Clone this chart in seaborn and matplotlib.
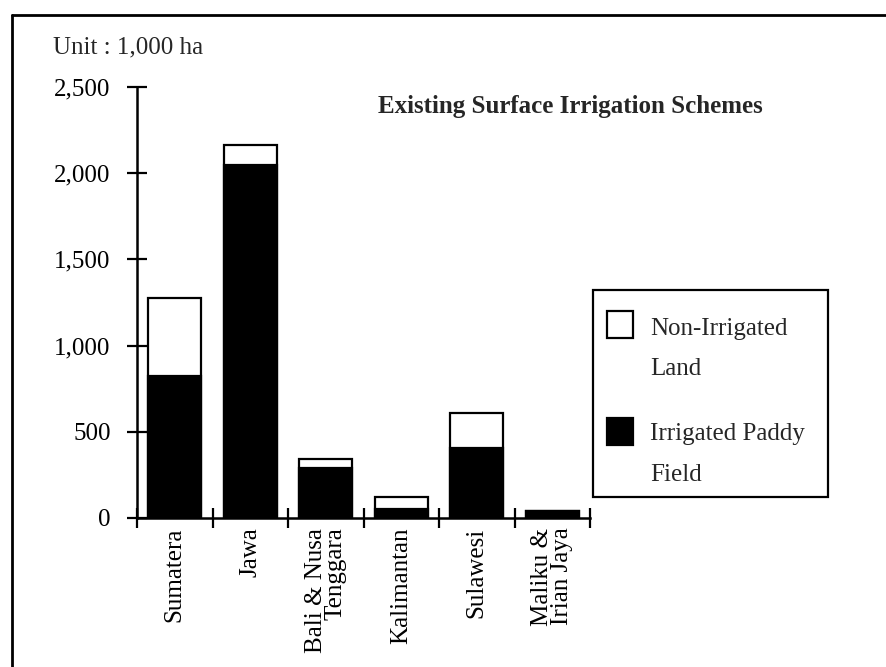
import matplotlib
matplotlib.use("Agg")
import matplotlib.pyplot as plt
from matplotlib.lines import Line2D
from matplotlib.patches import Rectangle
from matplotlib.ticker import FixedLocator
import seaborn as sns

# values in 1,000 ha
regions = ["Sumatera", "Jawa", "Bali & Nusa\nTenggara", "Kalimantan",
           "Sulawesi", "Maliku &\nIrian Jaya"]
irrigated = [822, 2046, 290, 52, 406, 40]
non_irrigated = [452, 116, 52, 70, 203, 0]
totals = [a + b for a, b in zip(irrigated, non_irrigated)]
yticks = [0, 500, 1000, 1500, 2000, 2500]
ytick_labels = ["0", "500", "1,000", "1,500", "2,000", "2,500"]

sns.set_theme(style="white")
plt.rcParams["font.family"] = ["Liberation Serif", "DejaVu Serif"]

W, H = 886, 667
fig = plt.figure(figsize=(W / 100, H / 100), dpi=100)
ax = fig.add_axes([137 / W, 1 - 518 / H, 453 / W, 431 / H])

# white = whole scheme, black = irrigated part drawn on top
sns.barplot(x=regions, y=totals, color="white", edgecolor="black",
            linewidth=1.6, width=0.7, saturation=1, ax=ax)
sns.barplot(x=regions, y=irrigated, color="black", edgecolor="black",
            linewidth=1.6, width=0.7, saturation=1, ax=ax)

ax.set_xlim(-0.5, len(regions) - 0.5)
ax.set_ylim(0, 2500)
ax.set_xlabel("")
ax.set_ylabel("")
ax.set_facecolor("white")
for side in ["top", "right"]:
    ax.spines[side].set_visible(False)
for side in ["left", "bottom"]:
    ax.spines[side].set_linewidth(1.8)
    ax.spines[side].set_color("black")

ax.set_yticks(yticks)
ax.set_yticklabels(ytick_labels, fontsize=18)
ax.tick_params(axis="y", direction="inout", length=14, width=1.6, pad=12,
               colors="black", left=True)

ax.set_xticks(range(len(regions)))
ax.set_xticklabels(regions, rotation=90, fontsize=18, va="top",
                   ha="center", multialignment="right", linespacing=0.9)
ax.tick_params(axis="x", which="major", length=0, pad=7, colors="black")
ax.xaxis.set_minor_locator(FixedLocator([i - 0.5 for i in range(len(regions) + 1)]))
ax.tick_params(axis="x", which="minor", direction="inout", length=14,
               width=1.6, bottom=True, colors="black")

# texts around the plot
fig.text(53 / W, 1 - 53 / H, "Unit : 1,000 ha", fontsize=18, ha="left",
         va="baseline")
fig.text(570 / W, 1 - 113 / H, "Existing Surface Irrigation Schemes",
         fontsize=18, fontweight="bold", ha="center", va="baseline")

# legend box, drawn by hand to keep the two-line labels as in the scan
fig.add_artist(Rectangle((593 / W, 1 - 497 / H), 235 / W, 207 / H,
                         transform=fig.transFigure, facecolor="white",
                         edgecolor="black", linewidth=1.6))
fig.add_artist(Rectangle((607 / W, 1 - 338 / H), 26 / W, 27 / H,
                         transform=fig.transFigure, facecolor="white",
                         edgecolor="black", linewidth=1.6))
fig.add_artist(Rectangle((607 / W, 1 - 445 / H), 26 / W, 27 / H,
                         transform=fig.transFigure, facecolor="black",
                         edgecolor="black", linewidth=1.6))
for txt, yb in [("Non-Irrigated", 335), ("Land", 375),
                ("Irrigated Paddy", 440), ("Field", 481)]:
    fig.text(650 / W, 1 - yb / H, txt, fontsize=18, ha="left", va="baseline")

# frame of the scanned page (top and left edges only)
fig.add_artist(Line2D([12 / W, 1], [1 - 15 / H, 1 - 15 / H],
                      transform=fig.transFigure, color="black", linewidth=2))
fig.add_artist(Line2D([12 / W, 12 / W], [0, 1 - 15 / H],
                      transform=fig.transFigure, color="black", linewidth=2))

fig.savefig("out.png", dpi=100, facecolor="white")
